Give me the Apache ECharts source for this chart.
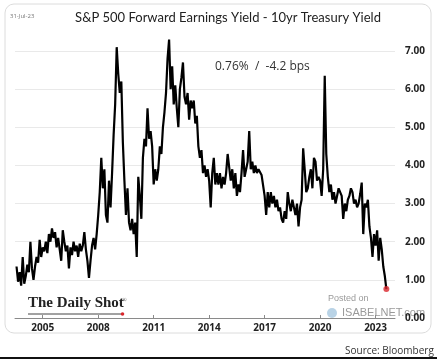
<!DOCTYPE html>
<html><head><meta charset="utf-8">
<script src="https://cdn.jsdelivr.net/npm/echarts@6/dist/echarts.min.js"></script>
<style>html,body{margin:0;padding:0;background:#fff}#c{width:437px;height:359px}</style>
</head><body><div id="c"></div>
<script>
// Monthly values (month-end), S&P 500 fwd earnings yield minus 10yr UST yield, %
const startYear = 2003, startMonth = 7;
const y2003 = [1.35, 0.95, 1.2, 0.85, 1.6, 0.9];
const y2004 = [1.1, 1.4, 1.2, 2.0, 1.3, 1.0, 1.35, 1.6, 1.45, 2.05, 1.6, 1.85];
const y2005 = [1.75, 2.0, 1.7, 2.2, 2.0, 2.35, 2.1, 2.25, 1.85, 2.1, 1.8, 1.5];
const y2006 = [2.3, 2.0, 1.75, 1.9, 1.3, 1.85, 1.65, 2.0, 1.75, 1.9, 1.6, 1.95];
const y2007 = [1.75, 1.9, 2.25, 1.8, 1.5, 1.05, 1.5, 1.9, 2.1, 1.8, 2.2, 2.7];
const y2008 = [3.3, 4.2, 3.4, 3.9, 2.7, 2.5, 3.6, 2.9, 3.8, 4.8, 5.6, 7.1];
const y2009 = [6.4, 5.9, 6.2, 4.6, 3.6, 2.7, 3.4, 2.5, 2.3, 2.6, 2.2, 2.5];
const y2010 = [1.6, 3.7, 3.2, 2.6, 4.2, 4.7, 4.5, 5.5, 4.7, 4.9, 4.5, 3.5];
const y2011 = [3.9, 3.6, 3.9, 4.5, 4.3, 5.0, 5.4, 5.9, 6.8, 7.3, 6.0, 6.6];
const y2012 = [5.6, 6.1, 5.5, 5.0, 6.0, 6.3, 6.7, 5.8, 5.6, 5.9, 5.2, 5.7];
const y2013 = [5.5, 5.7, 5.1, 5.3, 4.5, 4.2, 4.4, 3.8, 4.0, 3.7, 3.9, 3.6];
const y2014 = [2.9, 3.8, 4.2, 3.5, 3.8, 3.5, 3.8, 3.4, 3.7, 3.5, 3.8, 4.3];
const y2015 = [4.3, 3.6, 3.9, 3.4, 3.8, 3.2, 3.5, 3.3, 3.8, 4.4, 3.7, 3.9];
const y2016 = [4.1, 4.9, 3.9, 4.1, 3.8, 4.0, 3.8, 3.9, 3.85, 3.75, 3.8, 3.2];
const y2017 = [2.7, 3.3, 2.9, 3.3, 3.0, 3.2, 2.9, 3.1, 2.8, 2.9, 2.6, 2.5];
const y2018 = [2.8, 2.6, 3.3, 3.0, 2.8, 3.1, 2.9, 2.7, 3.0, 2.4, 2.9, 3.1];
const y2019 = [4.45, 3.9, 3.3, 3.4, 3.7, 3.9, 3.4, 4.2, 4.1, 3.6, 3.7, 3.6];
const y2020 = [3.2, 3.9, 6.35, 4.3, 3.7, 3.3, 3.5, 3.1, 3.3, 3.0, 3.2, 3.4];
const y2021 = [3.4, 3.2, 2.6, 3.0, 2.8, 3.1, 3.2, 3.4, 3.3, 3.0, 3.1, 2.9];
const y2022 = [3.0, 3.25, 3.55, 2.2, 3.0, 2.9, 3.1, 2.4, 2.1, 1.6, 2.2, 1.9];
const y2023 = [2.3, 1.5, 2.1, 1.8, 1.35, 1.1, 0.76];
const xTickYears = [2005, 2008, 2011, 2014, 2017, 2020, 2023];

const allYears = [y2003,y2004,y2005,y2006,y2007,y2008,y2009,y2010,y2011,y2012,y2013,y2014,y2015,y2016,y2017,y2018,y2019,y2020,y2021,y2022,y2023];
const data = [];
allYears.forEach((arr, i) => {
  const yr = startYear + i;
  const m0 = i === 0 ? startMonth : 1;
  arr.forEach((v, j) => data.push([yr + (m0 + j) / 12, v]));
});
const last = data[data.length - 1];

const chart = echarts.init(document.getElementById('c'), null, {renderer: 'canvas'});
chart.setOption({
  backgroundColor: '#fff',
  animation: false,
  title: {
    text: 'S&P 500 Forward Earnings Yield - 10yr Treasury Yield',
    left: 223, top: 6, textAlign: 'center',
    textStyle: {fontFamily: 'Lato', fontSize: 13, fontWeight: 'normal', color: '#222'}
  },
  grid: {left: 15, right: 42, top: 51, bottom: 41},
  xAxis: {
    type: 'value', min: 2003.5, max: 2024.05,
    splitLine: {show: false},
    axisLine: {lineStyle: {color: '#8a8a8a', width: 1}},
    axisTick: {show: true, inside: true, length: 3, customValues: xTickYears, lineStyle: {color: '#8a8a8a'}},
    axisLabel: {customValues: xTickYears, formatter: v => String(Math.round(v)), margin: 5,
      fontFamily: 'Open Sans', fontWeight: 'bold', fontSize: 10, color: '#222'}
  },
  yAxis: {
    type: 'value', position: 'right', min: 0, max: 7, interval: 1,
    axisLine: {show: false}, axisTick: {show: false},
    splitLine: {lineStyle: {color: '#e9e9e9', width: 1}},
    axisLabel: {formatter: v => v.toFixed(2), margin: 10,
      fontFamily: 'Open Sans', fontWeight: 'bold', fontSize: 10, color: '#222'}
  },
  series: [
    {type: 'line', data: data, showSymbol: false, clip: false,
     lineStyle: {color: '#000', width: 2.2}, z: 3},
    {type: 'scatter', data: [last], symbolSize: 6, itemStyle: {color: '#d9262c'}, z: 4}
  ],
  graphic: [
    {type: 'rect', shape: {x: 5, y: 4, width: 426, height: 329, r: 9},
     style: {fill: 'none', stroke: '#dcdcdc', lineWidth: 1}, z: -1, silent: true},
    {type: 'text', left: 10, top: 13, style: {text: '31-Jul-23', font: '6px "Open Sans"', fill: '#777'}},
    {type: 'text', left: 215, top: 61, style: {text: '0.76%  /  -4.2 bps', font: '12px "Open Sans"', fill: '#333'}},
    {type: 'text', left: 28, top: 296, style: {text: 'The Daily Shot', font: 'bold 15px "Liberation Serif"', fill: '#222'}},
    {type: 'text', left: 122, top: 297, style: {text: '®', font: '6px "Liberation Serif"', fill: '#222'}},
    {type: 'line', shape: {x1: 28, y1: 314, x2: 122, y2: 314}, style: {stroke: '#444', lineWidth: 1}},
    {type: 'circle', shape: {cx: 122.5, cy: 314, r: 1.8}, style: {fill: '#d9262c'}},
    {type: 'text', left: 328, top: 294, style: {text: 'Posted on', font: '9px "Liberation Sans"', fill: '#9a9a9a'}},
    {type: 'circle', shape: {cx: 332, cy: 313, r: 5}, style: {fill: '#b9d3e6'}},
    {type: 'text', left: 342, top: 307, style: {text: 'ISABELNET.com', font: '11px "Liberation Sans"', fill: '#9a9a9a'}},
    {type: 'text', left: 345, top: 346, style: {text: 'Source: Bloomberg', font: '10px "Open Sans"', fill: '#333'}},
    {type: 'rect', shape: {x: 0, y: 357, width: 437, height: 2}, style: {fill: '#111'}}
  ]
});
</script></body></html>
